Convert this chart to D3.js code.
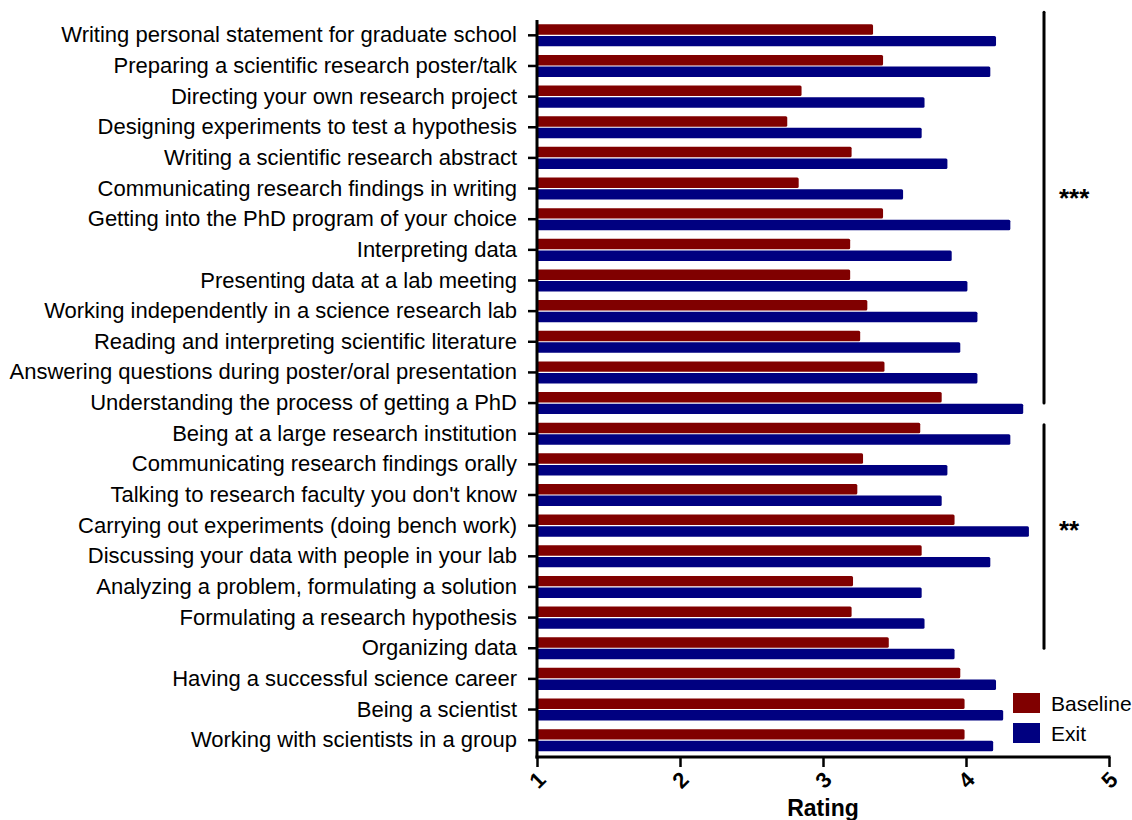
<!DOCTYPE html>
<html>
<head>
<meta charset="utf-8">
<script src="https://cdn.jsdelivr.net/npm/d3@7"></script>
<style>
  html, body { margin: 0; padding: 0; background: #fff; }
  svg { display: block; font-family: "Liberation Sans", Arial, Helvetica, sans-serif; }
</style>
</head>
<body>
<svg id="chart" width="1132" height="820"></svg>
<script>
const categories = [
  "Writing personal statement for graduate school",
  "Preparing a scientific research poster/talk",
  "Directing your own research project",
  "Designing experiments to test a hypothesis",
  "Writing a scientific research abstract",
  "Communicating research findings in writing",
  "Getting into the PhD program of your choice",
  "Interpreting data",
  "Presenting data at a lab meeting",
  "Working independently in a science research lab",
  "Reading and interpreting scientific literature",
  "Answering questions during poster/oral presentation",
  "Understanding the process of getting a PhD",
  "Being at a large research institution",
  "Communicating research findings orally",
  "Talking to research faculty you don't know",
  "Carrying out experiments (doing bench work)",
  "Discussing your data with people in your lab",
  "Analyzing a problem, formulating a solution",
  "Formulating a research hypothesis",
  "Organizing data",
  "Having a successful science career",
  "Being a scientist",
  "Working with scientists in a group"
];
const baseline = [3.35, 3.42, 2.85, 2.75, 3.20, 2.83, 3.42, 3.19, 3.19, 3.31, 3.26, 3.43,
                  3.83, 3.68, 3.28, 3.24, 3.92, 3.69, 3.21, 3.20, 3.46, 3.96, 3.99, 3.99];
const exitVals = [4.21, 4.17, 3.71, 3.69, 3.87, 3.56, 4.31, 3.90, 4.01, 4.08, 3.96, 4.08,
                  4.40, 4.31, 3.87, 3.83, 4.44, 4.17, 3.69, 3.71, 3.92, 4.21, 4.26, 4.19];
const seriesNames = ["Baseline", "Exit"];
const seriesColors = ["#800000", "#000080"];
const xTicks = [1, 2, 3, 4, 5];
const xTitle = "Rating";
// significance groups: first and last category spanned, and label
const sigFirst = [0, 13];
const sigLast = [12, 20];
const sigLabels = ["***", "**"];

const FONT = "'Liberation Sans', Arial, Helvetica, sans-serif";
const svg = d3.select("#chart");

const x = d3.scaleLinear().domain([1, 5]).range([537, 1109]);
const y = d3.scaleBand().domain(categories).range([20, 755.5])
  .paddingInner(0.28).paddingOuter(0.14);
const ySub = d3.scaleBand().domain(seriesNames).range([0, y.bandwidth()]).paddingInner(0.1);
const yc = c => y(c) + y.bandwidth() / 2;

const rows = categories.map((c, i) => ({ cat: c, vals: [baseline[i], exitVals[i]] }));

// bars
const g = svg.append("g");
rows.forEach(r => {
  r.vals.forEach((v, j) => {
    g.append("rect")
      .attr("x", x(1))
      .attr("y", y(r.cat) + ySub(seriesNames[j]))
      .attr("width", x(v) - x(1))
      .attr("height", ySub.bandwidth())
      .attr("rx", 1.5)
      .attr("fill", seriesColors[j]);
  });
});

// y axis
const yAxis = d3.axisLeft(y).tickSize(9).tickPadding(11);
const gy = svg.append("g").attr("transform", `translate(${x(1)},0)`).call(yAxis);
gy.select(".domain").remove();
gy.selectAll(".tick line").attr("stroke", "#000").attr("stroke-width", 2.5);
gy.selectAll(".tick text").attr("font-size", 22).attr("fill", "#000")
  .attr("font-family", FONT);
svg.append("line")
  .attr("x1", x(1)).attr("x2", x(1))
  .attr("y1", 20).attr("y2", 758.5)
  .attr("stroke", "#000").attr("stroke-width", 3);

// x axis
const axisY = 757;
const xAxis = d3.axisBottom(x).tickValues(xTicks).tickSize(10).tickFormat(d3.format("d"));
const gx = svg.append("g").attr("transform", `translate(0,${axisY})`).call(xAxis);
gx.select(".domain").remove();
gx.selectAll(".tick line").attr("stroke", "#000").attr("stroke-width", 2.5);
gx.selectAll(".tick text")
  .attr("font-size", 22).attr("font-weight", "bold").attr("fill", "#000")
  .attr("font-family", FONT)
  .attr("text-anchor", "middle")
  .attr("dy", null)
  .attr("y", 0)
  .attr("dominant-baseline", "central")
  .attr("transform", "translate(0,23) rotate(-45)");
svg.append("line")
  .attr("x1", x(1) - 1.5).attr("x2", x(5) + 1.5)
  .attr("y1", axisY).attr("y2", axisY)
  .attr("stroke", "#000").attr("stroke-width", 3);

svg.append("text")
  .attr("x", (x(1) + x(5)) / 2).attr("y", 816)
  .attr("text-anchor", "middle")
  .attr("font-size", 23).attr("font-weight", "bold")
  .text(xTitle);

// significance brackets
const bx = 1044;
sigFirst.forEach((f, i) => {
  const top = i === 0 ? y(categories[f]) - 12 : yc(categories[f]) - 9;
  const bottom = yc(categories[sigLast[i]]);
  svg.append("line")
    .attr("x1", bx).attr("x2", bx)
    .attr("y1", top).attr("y2", bottom)
    .attr("stroke", "#000").attr("stroke-width", 3).attr("stroke-linecap", "round");
  const mid = (top + bottom) / 2;
  svg.append("text")
    .attr("x", 1059).attr("y", mid + (i === 0 ? -1 : 3))
    .attr("font-size", 26).attr("font-weight", "bold")
    .text(sigLabels[i]);
});

// legend
const leg = svg.append("g");
seriesNames.forEach((s, i) => {
  const ly = 693 + i * 30;
  leg.append("rect").attr("x", 1013).attr("y", ly).attr("width", 27).attr("height", 20)
    .attr("fill", seriesColors[i]);
  leg.append("text").attr("x", 1051).attr("y", ly + 18)
    .attr("font-size", 21).text(s);
});
</script>
</body>
</html>
